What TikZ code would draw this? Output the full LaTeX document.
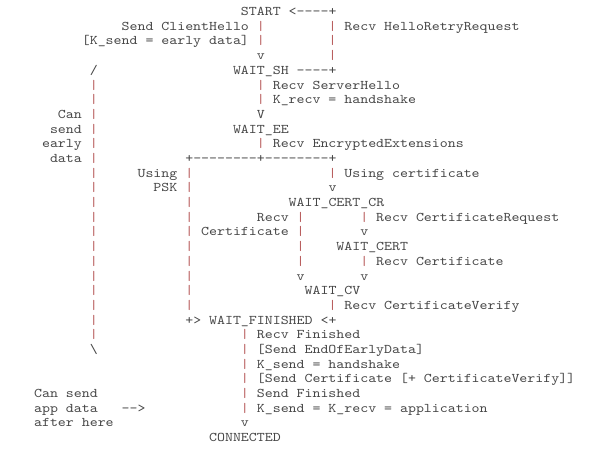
\documentclass[tikz,border=0pt]{standalone}
\usepackage{fontspec}
\newfontfamily\asciifont{lmmono10-regular}[Extension=.otf,FakeStretch=1.143]
\definecolor{asciitext}{RGB}{70,70,70}
\definecolor{asciibar}{RGB}{185,95,95}
\tikzset{
  ascii/.style={anchor=base west,inner sep=0pt,text=asciitext,
    font=\asciifont\fontsize{13.26pt}{14.69pt}\selectfont},
  bar/.style={ascii,text=asciibar}
}

\begin{document}
\begin{tikzpicture}[x=7.956pt,y=-14.69pt]
\useasboundingbox (-0.264,-1.062) rectangle (75.15,29.707);
\node[ascii] (start) at (30,0) {START};
\node[ascii] (retry) at (36,0) {<----+};
\node[ascii] (sendch) at (15,1) {Send ClientHello};
\node[ascii] (recvhrr) at (43,1) {Recv HelloRetryRequest};
\node[ascii] (ksendearly) at (10,2) {[K\_send = early data]};
\node[ascii] (vsh) at (32,3) {v};
\node[ascii] (slash) at (11,4) {/};
\node[ascii] (waitsh) at (29,4) {WAIT\_SH};
\node[ascii] (loop) at (37,4) {----+};
\node[ascii] (recvsh) at (34,5) {Recv ServerHello};
\node[ascii] (krecv) at (34,6) {K\_recv = handshake};
\node[ascii] (can) at (7,7) {Can};
\node[ascii] (vee) at (32,7) {V};
\node[ascii] (send) at (6,8) {send};
\node[ascii] (waitee) at (29,8) {WAIT\_EE};
\node[ascii] (early) at (5,9) {early};
\node[ascii] (recvee) at (34,9) {Recv EncryptedExtensions};
\node[ascii] (data) at (6,10) {data};
\node[ascii] (fork) at (23,10) {+--------+--------+};
\node[ascii] (using) at (17,11) {Using};
\node[ascii] (usingcert) at (43,11) {Using certificate};
\node[ascii] (psk) at (19,12) {PSK};
\node[ascii] (vcr) at (41,12) {v};
\node[ascii] (waitcertcr) at (36,13) {WAIT\_CERT\_CR};
\node[ascii] (recv) at (32,14) {Recv};
\node[ascii] (recvcr) at (47,14) {Recv CertificateRequest};
\node[ascii] (certificate) at (25,15) {Certificate};
\node[ascii] (vcert) at (45,15) {v};
\node[ascii] (waitcert) at (42,16) {WAIT\_CERT};
\node[ascii] (recvcert) at (47,17) {Recv Certificate};
\node[ascii] (vcvl) at (37,18) {v};
\node[ascii] (vcvr) at (45,18) {v};
\node[ascii] (waitcv) at (38,19) {WAIT\_CV};
\node[ascii] (recvcv) at (43,20) {Recv CertificateVerify};
\node[ascii] (joinl) at (23,21) {+>};
\node[ascii] (waitfin) at (26,21) {WAIT\_FINISHED};
\node[ascii] (joinr) at (40,21) {<+};
\node[ascii] (recvfin) at (32,22) {Recv Finished};
\node[ascii] (bslash) at (11,23) {\textbackslash};
\node[ascii] (sendeoed) at (32,23) {[Send EndOfEarlyData]};
\node[ascii] (ksendhs) at (32,24) {K\_send = handshake};
\node[ascii] (sendcert) at (32,25) {[Send Certificate [+ CertificateVerify]]};
\node[ascii] (cansend) at (4,26) {Can send};
\node[ascii] (sendfin) at (32,26) {Send Finished};
\node[ascii] (appdata) at (4,27) {app data};
\node[ascii] (arrow) at (15,27) {-->};
\node[ascii] (ksendapp) at (32,27) {K\_send = K\_recv = application};
\node[ascii] (afterhere) at (4,28) {after here};
\node[ascii] (vcon) at (30,28) {v};
\node[ascii] (connected) at (26,29) {CONNECTED};
\foreach \r in {5,...,22}
  \node[bar] (left-\r) at (11,\r) {|};
\foreach \r in {11,...,20}
  \node[bar] (psk-\r) at (23,\r) {|};
\foreach \r in {22,...,27}
  \node[bar] (fin-\r) at (30,\r) {|};
\foreach \c/\r in {32/1,41/1,32/2,41/2,41/3,32/5,32/6,32/9,41/11,
    37/14,45/14,37/15,37/16,37/17,45/17,41/20}
  \node[bar] (bar-\c-\r) at (\c,\r) {|};
\end{tikzpicture}
\end{document}
